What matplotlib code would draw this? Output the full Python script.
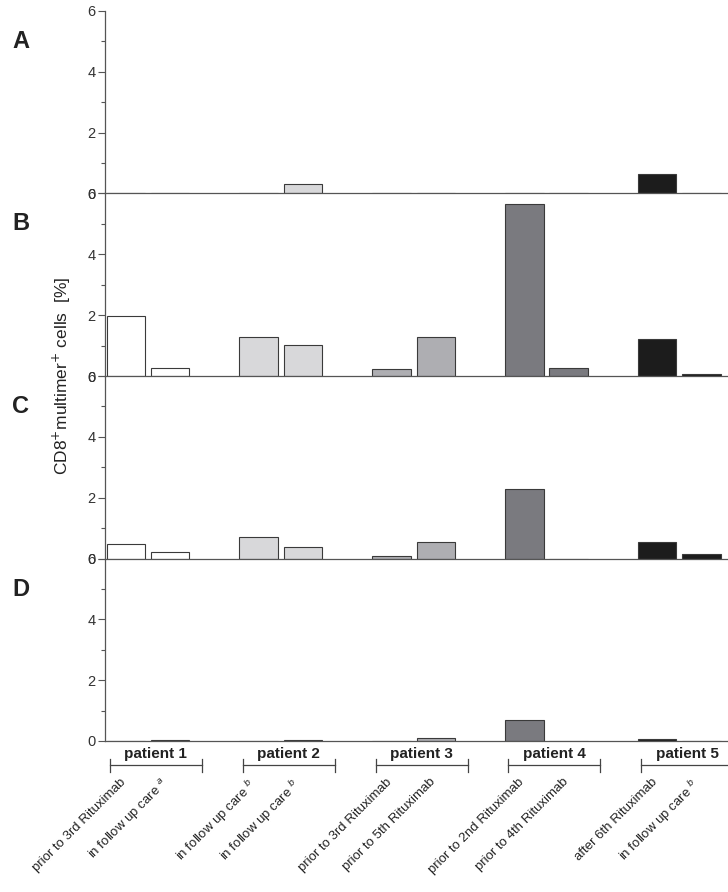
import numpy as np
import matplotlib
matplotlib.use('Agg')
import matplotlib.pyplot as plt

plt.rcParams['font.family'] = ['Liberation Sans', 'DejaVu Sans']

# Data (CD8+ multimer+ cells, %)
patients = ['patient 1', 'patient 2', 'patient 3', 'patient 4', 'patient 5']
sample_labels = ['prior to 3rd Rituximab', 'in follow up care $^{a}$',
                 'in follow up care $^{b}$', 'in follow up care $^{b}$',
                 'prior to 3rd Rituximab', 'prior to 5th Rituximab',
                 'prior to 2nd Rituximab', 'prior to 4th Rituximab',
                 'after 6th Rituximab', 'in follow up care $^{b}$']
panel_names = ['A', 'B', 'C', 'D']
panel_A = [0.0, 0.02, 0.0, 0.30, 0.02, 0.03, 0.0, 0.0, 0.63, 0.0]
panel_B = [1.97, 0.25, 1.27, 1.02, 0.22, 1.27, 5.65, 0.25, 1.23, 0.07]
panel_C = [0.48, 0.20, 0.72, 0.38, 0.07, 0.53, 2.30, 0.0, 0.53, 0.15]
panel_D = [0.0, 0.02, 0.0, 0.02, 0.0, 0.10, 0.70, 0.0, 0.05, 0.0]
panels = [panel_A, panel_B, panel_C, panel_D]

patient_colors = ['#ffffff', '#d8d8da', '#aeaeb2', '#7a7a7f', '#1c1c1c']

# bar positions: two bars per patient, one empty slot between patients
xpos = np.array([3 * i + j for i in range(5) for j in range(2)], dtype=float)
bar_colors = [patient_colors[i] for i in range(5) for j in range(2)]

fig = plt.figure(figsize=(7.28, 8.92), dpi=100)

left = 105 / 728
top = 1 - 11 / 892
ph = 182.5 / 892

axes = []
for k, vals in enumerate(panels):
    ax = fig.add_axes([left, top - (k + 1) * ph, 1 - left, ph])
    ax.bar(xpos, vals, width=0.87, color=bar_colors, edgecolor='#3a3a3a', linewidth=0.8)
    ax.set_xlim(-0.47, 13.6)
    ax.set_ylim(0, 6)
    ax.set_yticks([0, 2, 4, 6])
    ax.set_yticks([1, 3, 5], minor=True)
    ax.tick_params(axis='y', which='major', length=5, width=0.8, color='#555555',
                   labelsize=10.5, labelcolor='#333333', pad=2)
    ax.tick_params(axis='y', which='minor', length=3, width=0.8, color='#555555')
    ax.set_xticks([])
    for s in ['top', 'right']:
        ax.spines[s].set_visible(False)
    for s in ['left', 'bottom']:
        ax.spines[s].set_color('#555555')
        ax.spines[s].set_linewidth(0.9)
    ax.patch.set_alpha(0)
    fig.text(12 / 728, 1 - (41 + 183 * k) / 892, panel_names[k], fontsize=17,
             fontweight='bold', color='#222222', va='center', ha='left')
    axes.append(ax)

fig.text(62 / 728, 1 - 376 / 892, 'CD8$^{+}$multimer$^{+}$ cells  [%]', rotation=90,
         fontsize=12.5, color='#222222', ha='center', va='center')

# patient group labels and brackets below the last panel
axd = axes[-1]
trans = axd.get_xaxis_transform()
for i, name in enumerate(patients):
    x0 = 3 * i - 0.36
    x1 = 3 * i + 1.72
    yb = -24 / 182.5
    axd.plot([x0, x1], [yb, yb], color='#444444', lw=0.9, transform=trans, clip_on=False)
    for xe in (x0, x1):
        axd.plot([xe, xe], [yb - 7 / 182.5, yb + 6 / 182.5], color='#444444', lw=0.9,
                 transform=trans, clip_on=False)
    axd.text((x0 + x1) / 2, -13 / 182.5, name, transform=trans, ha='center', va='center',
             fontsize=11, fontweight='bold', color='#222222')

for x, lab in zip(xpos, sample_labels):
    axd.text(x + 0.05, -35 / 182.5, lab, transform=trans, rotation=45, ha='right', va='top',
             fontsize=9.5, color='#222222')

fig.savefig('out.png', dpi=100)
